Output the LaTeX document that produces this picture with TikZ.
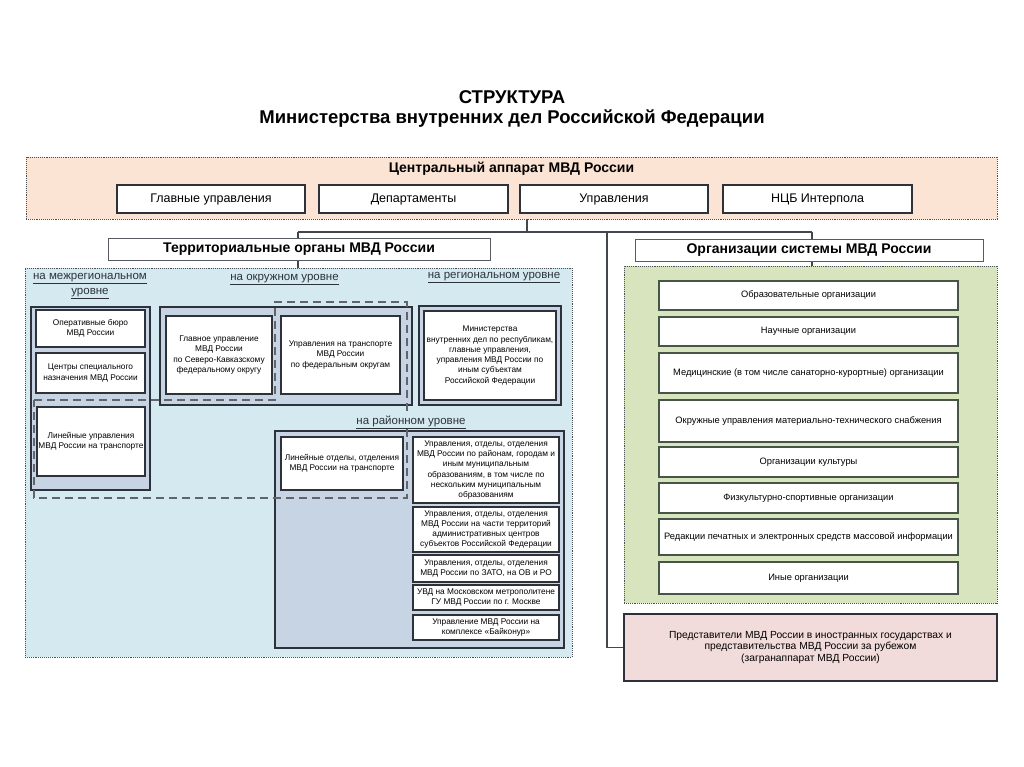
\documentclass[tikz,border=0pt]{standalone}
\usepackage{fontspec}
\setmainfont{Liberation Sans}
\definecolor{orangefill}{RGB}{251,228,212}
\definecolor{bluefill}{RGB}{213,234,240}
\definecolor{grpfill}{RGB}{198,212,228}
\definecolor{greenfill}{RGB}{215,228,189}
\definecolor{pinkfill}{RGB}{242,220,219}
\definecolor{dark}{RGB}{45,50,58}
\definecolor{greenborder}{RGB}{70,85,70}
\pgfdeclarelayer{paper}
\pgfdeclarelayer{lines}
\pgfsetlayers{paper,lines,main}
\tikzset{
  panel/.style={draw=dark!85, densely dotted, line width=0.9pt, inner sep=0pt},
  grp/.style={draw=dark, fill=grpfill, line width=1.2pt, inner sep=0pt},
  wbox/.style={draw=dark, fill=white, line width=1.1pt, inner sep=0pt, align=center,
     font=\fontsize{8.3}{10.3}\selectfont},
  cbox/.style={draw=dark, fill=white, line width=1.5pt, inner sep=0pt, align=center,
     font=\fontsize{12.5}{14}\selectfont, minimum height=28pt},
  gbox/.style={draw=greenborder, fill=white, line width=1.3pt, inner sep=0pt, align=center,
     font=\fontsize{9.3}{11}\selectfont, minimum width=299pt},
  hbox/.style={draw=dark!80, fill=white, line width=0.8pt, inner sep=0pt, align=center,
     font=\bfseries\fontsize{14}{16}\selectfont, minimum height=22pt},
  lvl/.style={align=center, inner sep=0pt, font=\fontsize{11.5}{15}\selectfont, text=dark},
  conn/.style={draw=dark!90, line width=1.2pt},
  trdash/.style={draw=dark!75, line width=1.2pt, dash pattern=on 8pt off 5pt},
}
\begin{document}
\begin{tikzpicture}[x=1pt,y=-1pt]
\begin{pgfonlayer}{paper}
\fill[white] (0,0) rectangle (1024,767);
\end{pgfonlayer}
\useasboundingbox (0,0) rectangle (1024,767);

% title
\node[font=\bfseries\fontsize{18.5}{20}\selectfont] (t1) at (512,97) {СТРУКТУРА};
\node[font=\bfseries\fontsize{18.5}{20}\selectfont] (t2) at (512,119) {Министерства внутренних дел Российской Федерации};

% central apparatus
\node[panel, fill=orangefill, minimum width=971pt, minimum height=62pt] (cent) at (511.5,188) {};
\node[font=\bfseries\fontsize{14}{16}\selectfont] (centt) at (511.5,169) {Центральный аппарат МВД России};
\node[cbox, minimum width=188pt] (c1) at (211,199) {Главные управления};
\node[cbox, minimum width=189pt] (c2) at (413.5,199) {Департаменты};
\node[cbox, minimum width=188pt] (c3) at (614,199) {Управления};
\node[cbox, minimum width=189pt] (c4) at (817.5,199) {НЦБ Интерпола};

% junction coordinates
\coordinate (j) at (527,232);
\coordinate (jL) at (298,232);
\coordinate (jR) at (812,232);
\coordinate (jP) at (607,232);

% panels
\node[panel, fill=bluefill, minimum width=547pt, minimum height=389pt] (terrpanel) at (298.5,462.5) {};
\node[panel, fill=greenfill, minimum width=373pt, minimum height=337pt] (orgpanel) at (810.5,434.5) {};
\node[draw=dark, fill=pinkfill, line width=1.5pt, minimum width=373pt, minimum height=67pt, inner sep=0pt,
  align=center, font=\fontsize{10.3}{11.8}\selectfont] (pink) at (810.5,647.5)
  {Представители МВД России в иностранных государствах и\\представительства МВД России за рубежом\\(загранаппарат МВД России)};

% header boxes
\node[hbox, minimum width=382pt] (terr) at (299,249) {Территориальные органы МВД России};
\node[hbox, minimum width=348pt] (org) at (809,250) {Организации системы МВД России};

% connectors
\begin{pgfonlayer}{lines}
\draw[conn] (cent.south -| j) -- (j);
\draw[conn] (jL) -- (jR);
\draw[conn] (jL) -- (terrpanel.north -| jL);
\draw[conn] (jR) -- (orgpanel.north -| jR);
\draw[conn] (jP) -- (jP |- pink.west) -- (pink.west);
\end{pgfonlayer}

% level labels
\node[lvl] (l1) at (90,286) {\underline{на межрегиональном}\\\underline{уровне}};
\node[lvl] (l2) at (284.5,280) {\underline{на окружном уровне}};
\node[lvl] (l3) at (494,278) {\underline{на региональном уровне}};

% interregional
\node[grp, minimum width=119pt, minimum height=183pt] (g1) at (90.5,398.5) {};
\node[wbox, minimum width=109pt, minimum height=37pt] (m1) at (90.5,328.5) {Оперативные бюро\\МВД России};
\node[wbox, minimum width=109pt, minimum height=40pt] (m2) at (90.5,373) {Центры специального\\назначения МВД России};
\node[wbox, minimum width=108pt, minimum height=69pt] (m3) at (91,441.5) {Линейные управления\\МВД России на транспорте};

% district
\node[grp, minimum width=252pt, minimum height=98pt] (g2) at (286,356) {};
\node[wbox, minimum width=106pt, minimum height=78pt] (o1) at (219,355) {Главное управление\\МВД России\\по Северо-Кавказскому\\федеральному округу};
\node[wbox, minimum width=119pt, minimum height=78pt] (o2) at (340.5,355) {Управления на транспорте\\МВД России\\по федеральным округам};

% regional
\node[grp, minimum width=142pt, minimum height=99pt] (g3) at (490,355.5) {};
\node[wbox, minimum width=132pt, minimum height=89pt] (r0) at (490,355.5) {Министерства\\внутренних дел по республикам,\\главные управления,\\управления МВД России по\\иным субъектам\\Российской Федерации};

% district level
\node[grp, minimum width=289pt, minimum height=217pt] (g4) at (419.5,539.5) {};
\node[wbox, minimum width=122pt, minimum height=53pt] (d0) at (342,463.5) {Линейные отделы, отделения\\МВД России на транспорте};
\node[wbox, minimum width=146pt, minimum height=66pt] (d1) at (486,470) {Управления, отделы, отделения\\МВД России по районам, городам и\\иным муниципальным\\образованиям, в том числе по\\нескольким муниципальным\\образованиям};
\node[wbox, minimum width=146pt, minimum height=45pt] (d2) at (486,529.5) {Управления, отделы, отделения\\МВД России на части территорий\\административных центров\\субъектов Российской Федерации};
\node[wbox, minimum width=146pt, minimum height=27pt] (d3) at (486,568.5) {Управления, отделы, отделения\\МВД России по ЗАТО, на ОВ и РО};
\node[wbox, minimum width=146pt, minimum height=25pt] (d4) at (486,597.5) {УВД на Московском метрополитене\\ГУ МВД России по г. Москве};
\node[wbox, minimum width=146pt, minimum height=25pt] (d5) at (486,627.5) {Управление МВД России на\\комплексе «Байконур»};

% transport dashed outline
\draw[trdash] (34,400) -- (275,400) -- (275,302) -- (407,302) -- (407,498) -- (34,498) -- cycle;
\node[lvl, fill=bluefill, inner sep=1pt] (l4) at (411,422) {\underline{на районном уровне}};

% organizations
\node[gbox, minimum height=29pt] (s1) at (808.5,295.5) {Образовательные организации};
\node[gbox, minimum height=29pt] (s2) at (808.5,331.5) {Научные организации};
\node[gbox, minimum height=40pt] (s3) at (808.5,373) {Медицинские (в том числе санаторно-курортные) организации};
\node[gbox, minimum height=42pt] (s4) at (808.5,421) {Окружные управления материально-технического снабжения};
\node[gbox, minimum height=30pt] (s5) at (808.5,462) {Организации культуры};
\node[gbox, minimum height=30pt] (s6) at (808.5,498) {Физкультурно-спортивные организации};
\node[gbox, minimum height=36pt] (s7) at (808.5,537) {Редакции печатных и электронных средств массовой информации};
\node[gbox, minimum height=32pt] (s8) at (808.5,578) {Иные организации};
\end{tikzpicture}
\end{document}
